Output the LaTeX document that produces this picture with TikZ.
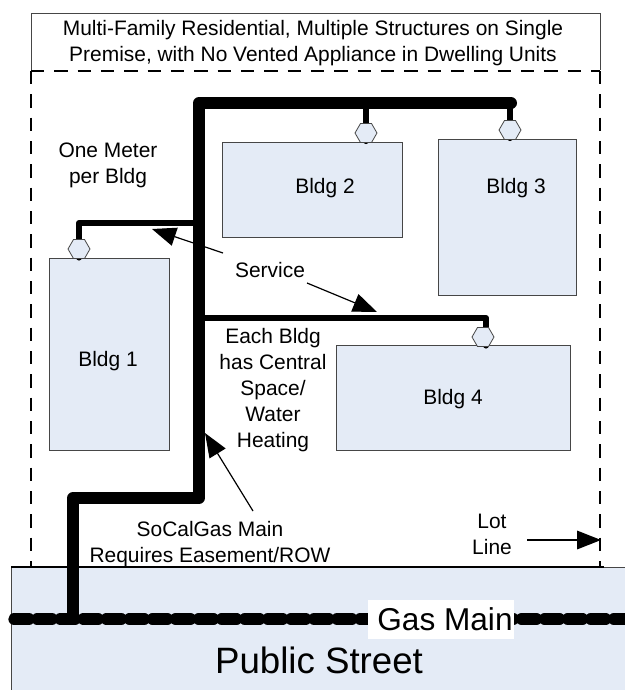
\documentclass[tikz,border=0pt]{standalone}
\usepackage{fontspec}
\setmainfont{Liberation Sans}
\usetikzlibrary{shapes.geometric,arrows.meta}
\definecolor{fillblue}{RGB}{228,235,246}
\definecolor{edgegray}{RGB}{70,70,70}
\tikzset{
  x=0.75pt,y=-0.75pt,
  bldg/.style={draw=edgegray,fill=fillblue,line width=0.8pt,inner sep=0pt},
  lbl/.style={font=\fontsize{15.7pt}{19.4pt}\selectfont,align=center,inner sep=0pt,text=black},
  hexa/.style={draw=edgegray,fill=fillblue,regular polygon,regular polygon sides=6,minimum size=16.5pt,inner sep=0pt,line width=0.6pt},
  mainpipe/.style={line width=9pt,line join=round,line cap=butt,black},
  service/.style={line width=4.6pt,line join=round,line cap=round,black},
  lotline/.style={line width=0.9pt,black,dash pattern=on 10pt off 7.5pt},
  callout/.style={line width=0.9pt,black,-{Triangle[length=18pt,width=14pt]}},
}
\begin{document}
\begin{tikzpicture}
\useasboundingbox (0,0) rectangle (625,690);
\fill[white] (0,0) rectangle (625,690);
% title and lot
\node[draw=edgegray,line width=0.7pt,minimum width=426.75pt,minimum height=43.5pt,inner sep=0pt,anchor=north west] (title) at (31,13) {};
\node[lbl] (titletext) at (313,43) {Multi-Family Residential, Multiple Structures on Single\\Premise, with No Vented Appliance in Dwelling Units};
\fill[white] (30,70) rectangle (601,73);
\coordinate (lotA) at (31,71);
\coordinate (lotB) at (600,71);
\coordinate (lotC) at (600,567);
\coordinate (lotD) at (31,567);
\draw[lotline] (lotA) -- (lotB);
\draw[lotline] (lotA) -- (lotD);
\draw[lotline] (lotB) -- (lotC);
% street
\node[draw=edgegray,fill=fillblue,line width=1pt,minimum width=462pt,minimum height=93pt,inner sep=0pt,anchor=north west] (street) at (11,567) {};
\coordinate (stL) at (11,567);
\coordinate (stR) at (604,567);
\draw[line width=1pt,black] (stL) -- (stR);
% pipe coordinates
\coordinate (p0) at (73,619);
\coordinate (p1) at (73,498);
\coordinate (p2) at (199,498);
\coordinate (p3) at (199,103);
\coordinate (p4) at (511,103);
\coordinate (s1a) at (199,223);
\coordinate (s1b) at (79,223);
\coordinate (s1c) at (79,257.5);
\coordinate (s2a) at (366,103);
\coordinate (s2c) at (366,141);
\coordinate (s3a) at (510,103);
\coordinate (s3c) at (510,138);
\coordinate (s4a) at (199,318);
\coordinate (s4b) at (486,318);
\coordinate (s4c) at (486,345.5);
% gas main
\coordinate (gmL) at (14,619);
\coordinate (gmR) at (625,619);
\draw[line width=8.5pt,black,line cap=round,dash pattern=on 11.3pt off 6pt] (gmL) -- (gmR);
\node[fill=white,minimum width=109.5pt,minimum height=29.25pt,inner sep=0pt] (gasbox) at (441,619.5) {};
\node[inner sep=0pt,font=\fontsize{23.7pt}{25pt}\selectfont] (gasmain) at (445,619) {Gas Main};
\node[lbl,font=\fontsize{27.5pt}{30pt}\selectfont] (pstreet) at (319,660) {Public Street};
% buildings
\node[bldg,minimum width=90pt,minimum height=144pt,anchor=north west] (b1) at (49,258) {};
\node[bldg,minimum width=135pt,minimum height=71.25pt,anchor=north west] (b2) at (222,142) {};
\node[bldg,minimum width=103.5pt,minimum height=117pt,anchor=north west] (b3) at (438,139) {};
\node[bldg,minimum width=175.5pt,minimum height=78.75pt,anchor=north west] (b4) at (336,345) {};
\node[lbl] (b1t) at (108,361) {Bldg 1};
\node[lbl] (b2t) at (325,188) {Bldg 2};
\node[lbl] (b3t) at (516,188) {Bldg 3};
\node[lbl] (b4t) at (453,399) {Bldg 4};
% pipes, drawn behind the meters
\draw[mainpipe] (p0) -- (p1) -- (p2) -- (p3) -- (p4);
\fill[black] (p4) circle (4.5pt);
\draw[service] (s1a) -- (s1b) -- (s1c);
\draw[service] (s2a) -- (s2c);
\draw[service] (s3a) -- (s3c);
\draw[service] (s4a) -- (s4b) -- (s4c);
% meters
\node[hexa] (m1) at (79,249) {};
\node[hexa] (m2) at (366,133) {};
\node[hexa] (m3) at (510,130) {};
\node[hexa] (m4) at (483,337) {};
% labels
\node[lbl] (meter) at (108,165) {One Meter\\per Bldg};
\node[lbl] (servicet) at (270,270) {Service};
\node[lbl] (each) at (273,390) {Each Bldg\\has Central\\Space/\\Water\\Heating};
\node[lbl] (socal) at (210,544) {SoCalGas Main\\Requires Easement/ROW};
\node[lbl] (lot) at (492,534) {Lot\\Line};
% callouts
\coordinate (c1s) at (223,253);
\coordinate (c1e) at (152,229);
\coordinate (c2s) at (307,283);
\coordinate (c2e) at (377,312);
\coordinate (c3s) at (253,511);
\coordinate (c3e) at (205,433);
\coordinate (c4s) at (527,540);
\coordinate (c4e) at (601,540);
\draw[callout] (c1s) -- (c1e);
\draw[callout] (c2s) -- (c2e);
\draw[callout] (c3s) -- (c3e);
\draw[callout] (c4s) -- (c4e);
\end{tikzpicture}
\end{document}
